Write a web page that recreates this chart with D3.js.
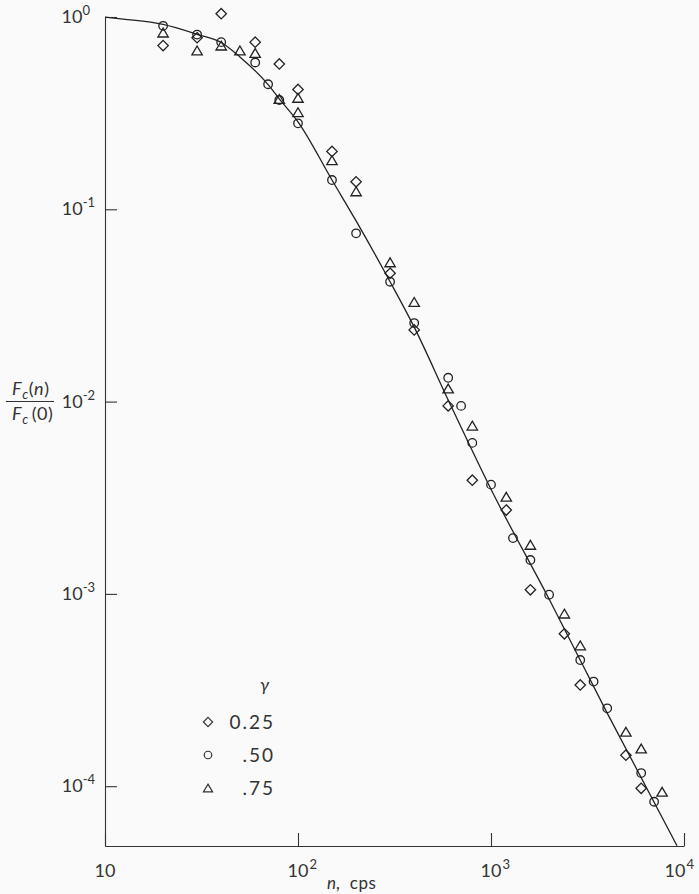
<!DOCTYPE html>
<html>
<head>
<meta charset="utf-8">
<script src="https://cdn.jsdelivr.net/npm/d3@7"></script>
<style>
body { margin: 0; background: #fafafa; }
svg { display: block; }
text { font-family: Lato, "DejaVu Sans", sans-serif; fill: #333; }
</style>
</head>
<body>
<svg id="chart" width="699" height="894"></svg>
<script>
// values: frequency n (cps) and Fc(n)/Fc(0)
var diamondN = [20, 30, 40, 60, 80, 100, 150, 200, 300, 400, 600, 800, 1200, 1600, 2400, 2900, 5000, 6000];
var diamondF = [0.71, 0.78, 1.04, 0.74, 0.57, 0.42, 0.20, 0.139, 0.0465, 0.0236, 0.0095, 0.0039, 0.00273, 0.00105, 0.00062, 0.000336, 0.000145, 0.0000975];

var circleN = [20, 30, 40, 60, 70, 80, 100, 150, 200, 300, 400, 600, 700, 800, 1000, 1300, 1600, 2000, 2900, 3400, 4000, 6000, 7000];
var circleF = [0.90, 0.81, 0.74, 0.58, 0.447, 0.37, 0.28, 0.142, 0.075, 0.042, 0.0256, 0.0133, 0.0095, 0.0061, 0.0037, 0.00195, 0.0015, 0.00099, 0.000453, 0.00035, 0.000254, 0.000117, 0.000083];

var triangleN = [20, 30, 40, 50, 60, 80, 100, 100, 150, 200, 300, 400, 600, 800, 1200, 1600, 2400, 2900, 5000, 6000, 7700];
var triangleF = [0.83, 0.67, 0.71, 0.67, 0.65, 0.375, 0.38, 0.32, 0.18, 0.124, 0.053, 0.033, 0.0117, 0.0075, 0.0032, 0.0018, 0.00079, 0.00054, 0.000192, 0.000157, 0.0000936];

// the drawn curve, traced point by point
var curveN = [10, 12.4, 20, 30, 40, 50, 70, 80, 100, 150, 200, 300, 400, 600, 1000, 2000, 4000, 9200];
var curveF = [1.0, 0.976, 0.915, 0.813, 0.737, 0.62, 0.445, 0.375, 0.285, 0.142, 0.087, 0.042, 0.0244, 0.0102, 0.0035, 0.00094, 0.00024, 0.000049];

var xTicks = [10, 100, 1000, 10000];
var xTickExp = ["", "2", "3", "4"];
var yTicks = [1, 0.1, 0.01, 0.001, 0.0001];
var yTickExp = ["0", "-1", "-2", "-3", "-4"];

var legendSymbols = ["diamond", "circle", "triangle"];
var legendLabels = ["0.25", ".50", ".75"];

var svg = d3.select("#chart");

var x = d3.scaleLog().domain([10, 1e4]).range([105, 684]);
var y = d3.scaleLog().domain([1, Math.pow(10, -4.311)]).range([17, 846]);

/**
 * Axes: only left and bottom, ticks pointing inward
 */
var xAxis = d3.axisBottom(x).tickValues(xTicks).tickSize(-13).tickSizeOuter(0).tickFormat("");
var yAxis = d3.axisLeft(y).tickValues(yTicks).tickSize(-12).tickSizeOuter(0).tickFormat("");

svg.append("g").attr("class", "xaxis")
    .attr("transform", "translate(0,846)")
    .call(xAxis);
svg.append("g").attr("class", "yaxis")
    .attr("transform", "translate(105,0)")
    .call(yAxis);

svg.selectAll(".xaxis path, .xaxis line, .yaxis path, .yaxis line")
    .attr("stroke", "#333").attr("stroke-width", 1.1);

// x tick labels: "10" centred on tick, exponent to the right (last one pulled in)
xTicks.forEach(function (v, i) {
    var cx = x(v) - (i === xTicks.length - 1 ? 9 : 0);
    var base = svg.append("text")
        .attr("x", cx).attr("y", 877)
        .attr("text-anchor", "middle")
        .style("font-size", "18px")
        .text("10");
    var w = base.node().getComputedTextLength();
    if (xTickExp[i]) {
        svg.append("text")
            .attr("x", cx + w / 2 + 1).attr("y", 869)
            .style("font-size", "13px")
            .text(xTickExp[i]);
    }
});

// y tick labels, right aligned left of the axis
yTicks.forEach(function (v, i) {
    var t = svg.append("text")
        .attr("x", i === 0 ? 90 : 95).attr("y", y(v) + 6)
        .attr("text-anchor", "end")
        .style("font-size", "18px");
    t.append("tspan").text("10");
    t.append("tspan").attr("dy", -8).style("font-size", "13px").text(yTickExp[i]);
});

// axis titles
var xl = svg.append("text").attr("x", 327).attr("y", 889)
    .style("font-size", "17px").style("letter-spacing", "0.5px");
xl.append("tspan").style("font-style", "italic").text("n,");
xl.append("tspan").attr("dx", 9).text("cps");

function fracPart(yy, arg, gap) {
    var t = svg.append("text").attr("x", 12).attr("y", yy)
        .style("font-size", "18px").style("letter-spacing", "0.6px");
    t.append("tspan").style("font-style", "italic").text("F");
    t.append("tspan").attr("dy", 4).style("font-size", "13px").style("font-style", "italic").text("c");
    t.append("tspan").attr("dy", -4).attr("dx", gap).text("(");
    t.append("tspan").style("font-style", arg === "n" ? "italic" : "normal").text(arg);
    t.append("tspan").text(")");
}
fracPart(395, "n", 0);
fracPart(420, "0", 3);
svg.append("line").attr("x1", 6).attr("x2", 54).attr("y1", 401.5).attr("y2", 401.5)
    .attr("stroke", "#333").attr("stroke-width", 1.2);

/**
 * Curve
 */
var curvePts = curveN.map(function (n, i) { return [n, curveF[i]]; });
var lineFunc = d3.line()
    .x(function (d) { return x(d[0]); })
    .y(function (d) { return y(d[1]); })
    .curve(d3.curveMonotoneX);

svg.append("path")
    .datum(curvePts)
    .attr("d", lineFunc)
    .attr("fill", "none")
    .attr("stroke", "#222")
    .attr("stroke-width", 1.3);

/**
 * Markers
 */
function markerPath(kind, s) {
    if (kind === "diamond") {
        return "M0," + (-s) + "L" + s + ",0L0," + s + "L" + (-s) + ",0Z";
    }
    if (kind === "triangle") {
        var h = s * 0.85;
        return "M0," + (-h) + "L" + s + "," + h + "L" + (-s) + "," + h + "Z";
    }
    return null;
}

function drawMarker(g, kind, cx, cy, s) {
    if (kind === "circle") {
        g.append("circle").attr("cx", cx).attr("cy", cy).attr("r", s * 0.82);
    } else {
        g.append("path").attr("d", markerPath(kind, s))
            .attr("transform", "translate(" + cx + "," + cy + ")");
    }
}

var marks = svg.append("g")
    .attr("fill", "none")
    .attr("stroke", "#222")
    .attr("stroke-width", 1.3);

function drawSeries(kind, ns, fs) {
    ns.forEach(function (n, i) {
        drawMarker(marks, kind, x(n), y(fs[i]), 5.2);
    });
}
drawSeries("diamond", diamondN, diamondF);
drawSeries("circle", circleN, circleF);
drawSeries("triangle", triangleN, triangleF);

/**
 * Legend
 */
svg.append("text").attr("x", 260).attr("y", 691)
    .style("font-size", "18px").style("font-style", "italic").text("γ");

var leg = svg.append("g")
    .attr("fill", "none")
    .attr("stroke", "#333")
    .attr("stroke-width", 1.2);
legendSymbols.forEach(function (k, i) {
    var cy = 722 + i * 33;
    drawMarker(leg, k, 208, cy, 4.6);
    svg.append("text")
        .attr("x", 275).attr("y", cy + 7)
        .attr("text-anchor", "end")
        .style("font-size", "19px")
        .style("letter-spacing", "2px")
        .text(legendLabels[i]);
});
</script>
</body>
</html>
